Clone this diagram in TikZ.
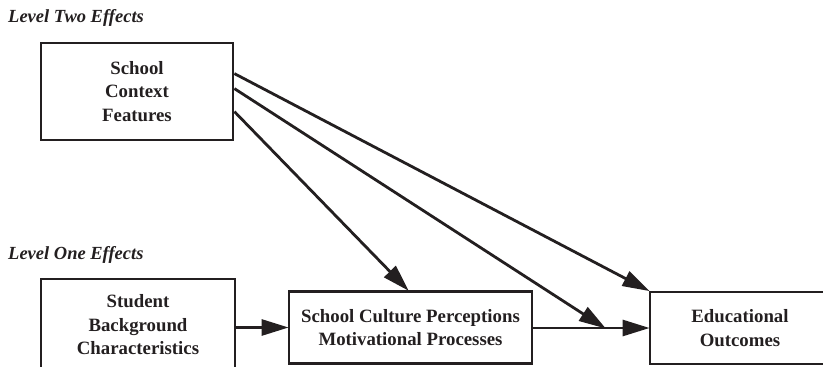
\documentclass[tikz,border=0pt]{standalone}
\usepackage{fontspec}
\setmainfont{Liberation Serif}
\usetikzlibrary{arrows.meta}
\definecolor{ink}{HTML}{231F20}
\begin{document}
\begin{tikzpicture}[x=1pt,y=-1pt,
  box/.style={draw=ink, line width=2.8pt, align=center, inner sep=0pt,
    font=\fontsize{18.8}{23.5}\selectfont\bfseries, text=ink},
  level/.style={anchor=west, inner sep=0pt,
    font=\fontsize{18.5}{20}\selectfont\bfseries\itshape, text=ink},
  link/.style={draw=ink, line width=2.8pt,
    -{Triangle[length=27pt,width=16pt]}, shorten >=-1pt}]
\useasboundingbox (0,0) rectangle (823,367);
\clip (0,0) rectangle (823,367);

% level headings
\node[level] (lv2) at (8,18) {Level Two Effects};
\node[level] (lv1) at (8,255) {Level One Effects};

% boxes
\node[box, minimum width=192pt, minimum height=97pt] (ctx) at (137,91.5)
  {School\\Context\\Features};
\node[box, minimum width=194pt, minimum height=92pt] (stud) at (138,325)
  {Student\\Background\\Characteristics};
\node[box, minimum width=243pt, minimum height=72pt] (cult) at (410.5,327.5)
  {School Culture Perceptions\\Motivational Processes};
\node[box, minimum width=180pt, minimum height=72pt] (edu) at (740,328)
  {Educational\\Outcomes};

% attachment points on the context box and the junction on the lower path
\coordinate (c1) at ([yshift=-32pt]ctx.north east);
\coordinate (c2) at ([yshift=-47pt]ctx.north east);
\coordinate (c3) at ([yshift=-70pt]ctx.north east);
\coordinate (j) at (605,0 |- edu.west);
\coordinate (ct) at (408,0 |- cult.north);

% level one paths
\draw[link] (stud.east |- cult.west) -- (cult.west);
\draw[link] (cult.east |- edu.west) -- (edu.west);

% level two paths
\draw[link] (c3) -- (ct);
\draw[link] (c2) -- (j);
\draw[link] (c1) -- (edu.north west);
\end{tikzpicture}
\end{document}
